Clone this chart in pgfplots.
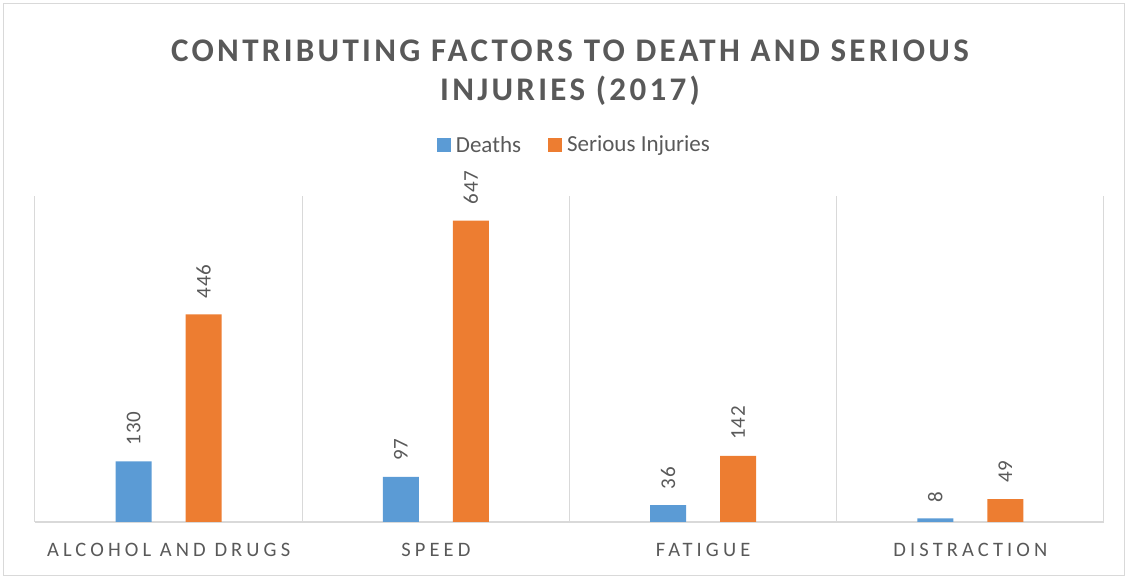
\documentclass[border=0pt]{standalone}
\usepackage{fontspec}
\setmainfont{Carlito}
\newfontfamily\spaced[LetterSpace=20]{Carlito}
\newfontfamily\numfont[LetterSpace=4]{Carlito}
\newfontfamily\titlefont[LetterSpace=10]{Carlito}
\usepackage{pgfplots}
\pgfplotsset{compat=1.18}
\definecolor{cblue}{HTML}{5B9BD5}
\definecolor{corange}{HTML}{ED7D31}
\definecolor{txt}{HTML}{595959}
\definecolor{grd}{HTML}{D9D9D9}
\begin{document}
\begin{tikzpicture}[x=1pt,y=1pt]
\path (0,0) rectangle (1127,578);
\draw[grd, line width=1pt] (3,2) rectangle (1124,574);
\node[text=txt, font=\fontsize{33}{39}\selectfont\titlefont\bfseries, align=center] at (570,505) {CONTRIBUTING FACTORS TO DEATH AND SERIOUS\\INJURIES (2017)};
\begin{axis}[
  at={(35pt,56pt)}, anchor=south west,
  scale only axis, width=1069pt, height=326pt,
  xmin=-0.5, xmax=3.5, ymin=0, ymax=700,
  ybar, bar width=36pt,
  axis y line=none,
  axis x line*=bottom,
  x axis line style={grd, line width=1.5pt},
  xtick={0,1,2,3},
  xticklabels={ALCOHOL AND DRUGS, SPEED, FATIGUE, DISTRACTION},
  xticklabel style={font=\fontsize{20.5}{20}\selectfont\spaced, text=txt, yshift=-18pt},
  minor xtick={-0.5,0.5,1.5,2.5,3.5},
  minor x grid style={grd, line width=1pt},
  xminorgrids,
  major tick length=0pt, minor tick length=0pt,
  /pgf/number format/assume math mode=true,
  nodes near coords,
  every node near coord/.append style={font=\fontsize{21}{21}\selectfont\numfont, text=txt, rotate=90, anchor=west, inner xsep=16pt, inner ysep=2pt},
  legend style={at={(axis description cs:0.5037,1.157)}, anchor=center, draw=none, fill=none, font=\fontsize{23}{23}\selectfont, text=txt, legend columns=2, inner sep=0pt, nodes={inner xsep=0pt},
    /tikz/every odd column/.append style={column sep=5pt},
    /tikz/every even column/.append style={column sep=27pt}},
  legend image code/.code={\fill[#1] (0pt,-7pt) rectangle (14pt,7pt);},
  clip=false,
]
\addplot[fill=cblue, draw=none, bar shift=-35pt] coordinates {(0,130) (1,97) (2,36) (3,8)};
\addlegendentry{Deaths}
\addplot[fill=corange, draw=none, bar shift=35pt] coordinates {(0,446) (1,647) (2,142) (3,49)};
\addlegendentry{Serious Injuries}
\end{axis}
\end{tikzpicture}
\end{document}
